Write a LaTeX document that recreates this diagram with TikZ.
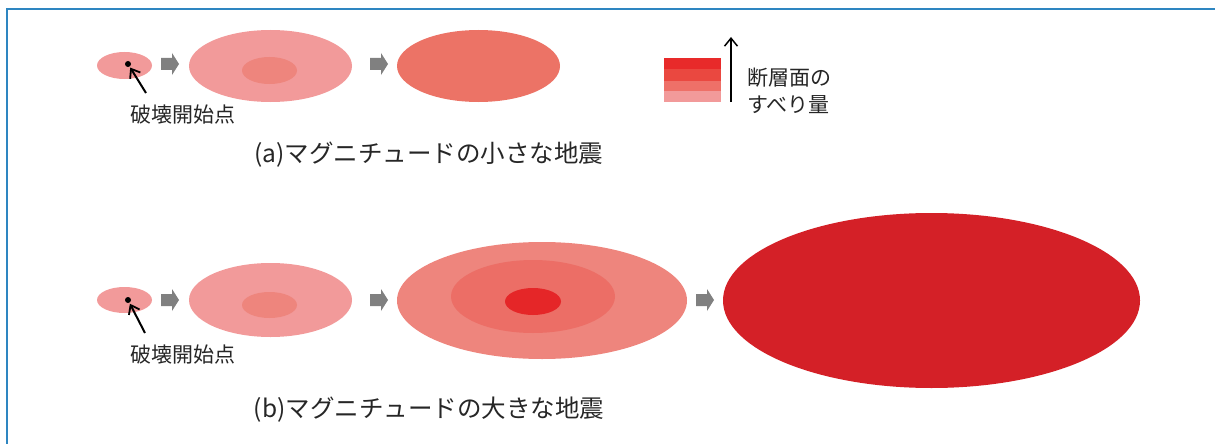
\documentclass[tikz,border=0pt]{standalone}
\usepackage{fontspec}
\setmainfont{Noto Sans CJK JP}
\usetikzlibrary{arrows.meta,shapes.geometric}
\definecolor{frameblue}{HTML}{2E86C1}
\definecolor{pinkA}{HTML}{F29A9A}
\definecolor{pinkB}{HTML}{EE857D}
\definecolor{pinkC}{HTML}{EC7366}
\definecolor{pinkD}{HTML}{EC6E66}
\definecolor{redE}{HTML}{E52628}
\definecolor{redF}{HTML}{D42027}
\definecolor{bandA}{HTML}{E82A2A}
\definecolor{bandB}{HTML}{EA4840}
\definecolor{bandC}{HTML}{EE7068}
\definecolor{bandD}{HTML}{F29A9A}
\definecolor{txt}{HTML}{262626}
\definecolor{garrow}{HTML}{808080}
\tikzset{
  blob/.style={ellipse,draw=none,inner sep=0pt,outer sep=0pt},
  dotnode/.style={circle,fill=black,inner sep=0pt,minimum size=6pt},
  pointer/.style={line width=2pt,-{Straight Barb[length=8pt,width=12pt,line width=1.8pt]},shorten >=1pt},
  label21/.style={text=txt,font=\fontsize{21}{24}\selectfont,inner sep=0pt},
  caption/.style={text=txt,font=\fontsize{24.5}{28}\selectfont,inner sep=0pt},
}
\newcommand{\grayarrow}[2]{%
  \fill[garrow] (#1,#2-6) -- (#1+11,#2-6) -- (#1+11,#2-11) -- (#1+18,#2) -- (#1+11,#2+11) -- (#1+11,#2+6) -- (#1,#2+6) -- cycle;}
\begin{document}
\begin{tikzpicture}[x=1pt,y=-1pt]
\useasboundingbox (0,0) rectangle (1215,444);
% frame
\draw[frameblue,line width=1.5pt] (7,450) -- (7,9) -- (1225,9);

% ---- row (a)
\node[blob,fill=pinkA,minimum width=55pt,minimum height=27pt] (a1) at (124.5,65.5) {};
\node[dotnode] (adot) at (128,64) {};
\coordinate (aptr) at (146,93);
\draw[pointer] (aptr) -- (adot);
\node[label21] (alab) at (183,115) {破壊開始点};
\grayarrow{161}{64}
\node[blob,fill=pinkA,minimum width=163pt,minimum height=72pt] (a2) at (270.5,66) {};
\node[blob,fill=pinkB,minimum width=55pt,minimum height=27pt] (a2i) at (269.5,70.5) {};
\grayarrow{370}{64}
\node[blob,fill=pinkC,minimum width=163pt,minimum height=72pt] (a3) at (478.5,66) {};
\node[caption] (capa) at (429,155) {(a)マグニチュードの小さな地震};

% legend
\fill[bandA] (664,58) rectangle (721,69.3);
\fill[bandB] (664,69.3) rectangle (721,80.7);
\fill[bandC] (664,80.7) rectangle (721,91);
\fill[bandD] (664,91) rectangle (721,102);
\coordinate (lbot) at (731,102);
\coordinate (ltop) at (731,37);
\draw[line width=1.5pt,-{Straight Barb[length=8pt,width=13pt,line width=1.5pt]}] (lbot) -- (ltop);
\node[label21,anchor=west] (leg1) at (747,78) {断層面の};
\node[label21,anchor=west] (leg2) at (747,105) {すべり量};

% ---- row (b)
\node[blob,fill=pinkA,minimum width=55pt,minimum height=26pt] (b1) at (124.5,300) {};
\node[dotnode] (bdot) at (128,300) {};
\coordinate (bptr) at (145,333);
\draw[pointer] (bptr) -- (bdot);
\node[label21] (blab) at (183,355) {破壊開始点};
\grayarrow{161}{300}
\node[blob,fill=pinkA,minimum width=163pt,minimum height=74pt] (b2) at (270.5,300) {};
\node[blob,fill=pinkB,minimum width=55pt,minimum height=26pt] (b2i) at (269.5,305) {};
\grayarrow{370}{300}
\node[blob,fill=pinkB,minimum width=290pt,minimum height=117pt] (b3) at (542,300.5) {};
\node[blob,fill=pinkD,minimum width=164pt,minimum height=73pt] (b3m) at (533,296.5) {};
\node[blob,fill=redE,minimum width=56pt,minimum height=27pt] (b3i) at (533,301.5) {};
\grayarrow{696}{300}
\node[blob,fill=redF,minimum width=417pt,minimum height=175pt] (b4) at (931.5,300.5) {};
\node[caption] (capb) at (429,410) {(b)マグニチュードの大きな地震};
\end{tikzpicture}
\end{document}
